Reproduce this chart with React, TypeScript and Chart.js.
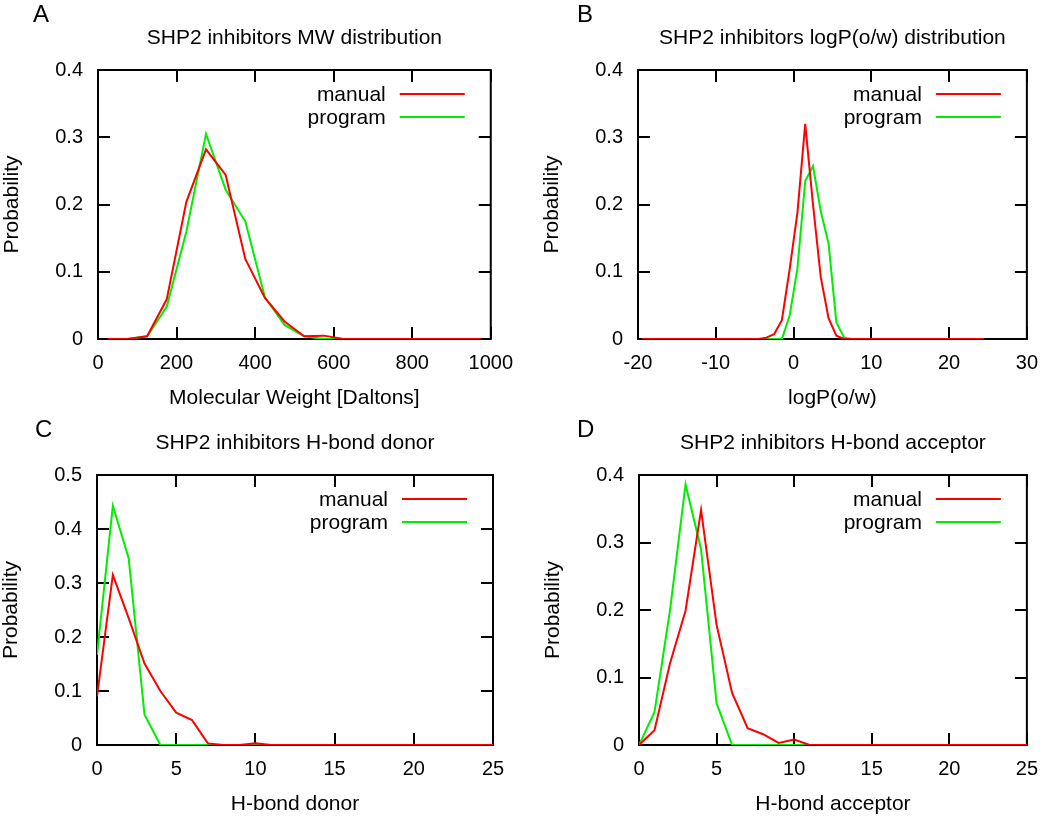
import React, { useEffect, useRef } from 'react';
import { Chart, registerables } from 'chart.js';

Chart.register(...registerables);

const FONT = '"Liberation Sans", Arial, Helvetica, sans-serif';
const RED = '#ff0000';
const GREEN = '#00ee00';

// ---- Panel A: molecular weight ----
const mwBins = [25, 75, 125, 175, 225, 275, 325, 375, 425, 475, 525, 575, 625, 675, 725, 775, 825, 875, 925, 975];
const mwManual = [0, 0, 0.004, 0.059, 0.204, 0.282, 0.244, 0.119, 0.061, 0.026, 0.004, 0.005, 0, 0, 0, 0, 0, 0, 0, 0];
const mwProgram = [0, 0, 0.004, 0.048, 0.16, 0.305, 0.222, 0.175, 0.062, 0.021, 0.004, 0, 0, 0, 0, 0, 0, 0, 0, 0];

// ---- Panel B: logP(o/w) ----
const logpBins = [
  -19.5, -18.5, -17.5, -16.5, -15.5, -14.5, -13.5, -12.5, -11.5, -10.5,
  -9.5, -8.5, -7.5, -6.5, -5.5, -4.5, -3.5, -2.5, -1.5, -0.5,
  0.5, 1.5, 2.5, 3.5, 4.5, 5.5, 6.5, 7.5, 8.5, 9.5,
  10.5, 11.5, 12.5, 13.5, 14.5, 15.5, 16.5, 17.5, 18.5, 19.5,
  20.5, 21.5, 22.5, 23.5, 24.5,
];
const logpManual = [
  0, 0, 0, 0, 0, 0, 0, 0, 0, 0,
  0, 0, 0, 0, 0, 0, 0.002, 0.007, 0.028, 0.104,
  0.188, 0.32, 0.2, 0.092, 0.031, 0.005, 0, 0, 0, 0,
  0, 0, 0, 0, 0, 0, 0, 0, 0, 0,
  0, 0, 0, 0, 0,
];
const logpProgram = [
  0, 0, 0, 0, 0, 0, 0, 0, 0, 0,
  0, 0, 0, 0, 0, 0, 0, 0, 0, 0.035,
  0.105, 0.235, 0.257, 0.19, 0.142, 0.025, 0.002, 0, 0, 0,
  0, 0, 0, 0, 0, 0, 0, 0, 0, 0,
  0, 0, 0, 0, 0,
];

// ---- Panel C: H-bond donor ----
const donorCounts = [0, 1, 2, 3, 4, 5, 6, 7, 8, 9, 10, 11, 12, 13, 14, 15, 16, 17, 18, 19, 20, 21, 22, 23, 24, 25];
const donorManual = [0.09, 0.315, 0.235, 0.151, 0.1, 0.06, 0.046, 0.003, 0, 0, 0.003, 0, 0, 0, 0, 0, 0, 0, 0, 0, 0, 0, 0, 0, 0, 0];
const donorProgram = [0.167, 0.443, 0.346, 0.056, 0, 0, 0, 0, 0, 0, 0, 0, 0, 0, 0, 0, 0, 0, 0, 0, 0, 0, 0, 0, 0, 0];

// ---- Panel D: H-bond acceptor ----
const acceptorCounts = [0, 1, 2, 3, 4, 5, 6, 7, 8, 9, 10, 11, 12, 13, 14, 15, 16, 17, 18, 19, 20, 21, 22, 23, 24, 25];
const acceptorManual = [0, 0.022, 0.121, 0.199, 0.348, 0.178, 0.077, 0.025, 0.016, 0.003, 0.008, 0, 0, 0, 0, 0, 0, 0, 0, 0, 0, 0, 0, 0, 0, 0];
const acceptorProgram = [0, 0.049, 0.2, 0.386, 0.29, 0.062, 0, 0, 0, 0, 0, 0, 0, 0, 0, 0, 0, 0, 0, 0, 0, 0, 0, 0, 0, 0];

const seriesNames = ['manual', 'program'];

type Panel = {
  letter: string;
  title: string;
  xTitle: string;
  xs: number[];
  manual: number[];
  program: number[];
  xMin: number;
  xMax: number;
  xStep: number;
  yMax: number;
  pos: { left: number; top: number };
  area: { left: number; top: number; right: number; bottom: number };
  letterPos: { x: number; y: number };
};

const W = 525;
const H = 408;

const panels: Panel[] = [
  {
    letter: 'A', title: 'SHP2 inhibitors MW distribution', xTitle: 'Molecular Weight [Daltons]',
    xs: mwBins, manual: mwManual, program: mwProgram,
    xMin: 0, xMax: 1000, xStep: 200, yMax: 0.4,
    pos: { left: 0, top: 0 }, area: { left: 98, top: 70, right: 493, bottom: 339 }, letterPos: { x: 33, y: 22 },
  },
  {
    letter: 'B', title: 'SHP2 inhibitors logP(o/w) distribution', xTitle: 'logP(o/w)',
    xs: logpBins, manual: logpManual, program: logpProgram,
    xMin: -20, xMax: 30, xStep: 10, yMax: 0.4,
    pos: { left: 525, top: 0 }, area: { left: 113, top: 70, right: 509, bottom: 339 }, letterPos: { x: 52, y: 22 },
  },
  {
    letter: 'C', title: 'SHP2 inhibitors H-bond donor', xTitle: 'H-bond donor',
    xs: donorCounts, manual: donorManual, program: donorProgram,
    xMin: 0, xMax: 25, xStep: 5, yMax: 0.5,
    pos: { left: 0, top: 408 }, area: { left: 97, top: 67, right: 493, bottom: 337 }, letterPos: { x: 35, y: 29 },
  },
  {
    letter: 'D', title: 'SHP2 inhibitors H-bond acceptor', xTitle: 'H-bond acceptor',
    xs: acceptorCounts, manual: acceptorManual, program: acceptorProgram,
    xMin: 0, xMax: 25, xStep: 5, yMax: 0.4,
    pos: { left: 525, top: 408 }, area: { left: 114, top: 67, right: 510, bottom: 337 }, letterPos: { x: 52, y: 29 },
  },
];

const fmt = (v: number) => String(Math.round(v * 1000) / 1000);

function makeConfig(p: Panel): any {
  const decor = {
    id: 'gnuplotDecor',
    beforeDatasetsDraw(chart: any) {
      const { ctx, chartArea: ca, scales } = chart;
      ctx.save();
      ctx.strokeStyle = '#000';
      ctx.lineWidth = 2;
      ctx.strokeRect(ca.left, ca.top, ca.right - ca.left, ca.bottom - ca.top);
      const tl = 12;
      ctx.beginPath();
      for (const t of scales.x.ticks) {
        const px = Math.round(scales.x.getPixelForValue(t.value));
        ctx.moveTo(px, ca.bottom);
        ctx.lineTo(px, ca.bottom - tl);
        ctx.moveTo(px, ca.top);
        ctx.lineTo(px, ca.top + tl);
      }
      for (const t of scales.y.ticks) {
        const py = Math.round(scales.y.getPixelForValue(t.value));
        ctx.moveTo(ca.left, py);
        ctx.lineTo(ca.left + tl, py);
        ctx.moveTo(ca.right, py);
        ctx.lineTo(ca.right - tl, py);
      }
      ctx.stroke();
      ctx.restore();
    },
    afterDraw(chart: any) {
      const { ctx, chartArea: ca } = chart;
      ctx.save();
      ctx.fillStyle = '#000';
      ctx.textBaseline = 'alphabetic';
      // panel letter
      ctx.font = `24px ${FONT}`;
      ctx.textAlign = 'left';
      ctx.fillText(p.letter, p.letterPos.x, p.letterPos.y);
      // title
      ctx.font = `21px ${FONT}`;
      ctx.textAlign = 'center';
      ctx.fillText(p.title, (ca.left + ca.right) / 2, ca.top - 26);
      // x title
      ctx.fillText(p.xTitle, (ca.left + ca.right) / 2, ca.bottom + 65);
      // y title
      ctx.save();
      ctx.translate(ca.left - 80, (ca.top + ca.bottom) / 2);
      ctx.rotate(-Math.PI / 2);
      ctx.textAlign = 'center';
      ctx.fillText('Probability', 0, 0);
      ctx.restore();
      // legend
      const colors = [RED, GREEN];
      seriesNames.forEach((name, i) => {
        const y = ca.top + 24 + i * 23;
        ctx.textAlign = 'right';
        ctx.textBaseline = 'middle';
        ctx.fillStyle = '#000';
        ctx.fillText(name, ca.right - 105, y + 1);
        ctx.strokeStyle = colors[i];
        ctx.lineWidth = 2;
        ctx.beginPath();
        ctx.moveTo(ca.right - 91, y);
        ctx.lineTo(ca.right - 26, y);
        ctx.stroke();
      });
      ctx.restore();
    },
  };

  return {
    type: 'line',
    data: {
      datasets: [
        {
          label: seriesNames[0],
          data: p.xs.map((x, i) => ({ x, y: p.manual[i] })),
          borderColor: RED,
          borderWidth: 2,
          pointRadius: 0,
          tension: 0,
          fill: false,
        },
        {
          label: seriesNames[1],
          data: p.xs.map((x, i) => ({ x, y: p.program[i] })),
          borderColor: GREEN,
          borderWidth: 2,
          pointRadius: 0,
          tension: 0,
          fill: false,
        },
      ],
    },
    options: {
      responsive: false,
      animation: false,
      devicePixelRatio: 1,
      layout: { padding: { left: 0, top: p.area.top, right: W - p.area.right, bottom: 0 } },
      plugins: { legend: { display: false }, title: { display: false }, tooltip: { enabled: false } },
      scales: {
        x: {
          type: 'linear',
          min: p.xMin,
          max: p.xMax,
          grid: { display: false, drawTicks: false },
          border: { display: false },
          ticks: {
            stepSize: p.xStep,
            autoSkip: false,
            maxRotation: 0,
            padding: 12,
            color: '#000',
            font: { family: FONT, size: 20 },
            callback: (v: number) => fmt(v),
          },
          afterFit: (s: any) => { s.height = H - p.area.bottom; },
        },
        y: {
          type: 'linear',
          min: 0,
          max: p.yMax,
          grid: { display: false, drawTicks: false },
          border: { display: false },
          ticks: {
            stepSize: 0.1,
            padding: 15,
            color: '#000',
            font: { family: FONT, size: 20 },
            callback: (v: number) => fmt(v),
          },
          afterFit: (s: any) => { s.width = p.area.left; },
        },
      },
    },
    plugins: [decor],
  };
}

function PanelChart({ p }: { p: Panel }) {
  const ref = useRef<HTMLCanvasElement | null>(null);
  useEffect(() => {
    if (!ref.current) return;
    const chart = new Chart(ref.current, makeConfig(p));
    return () => chart.destroy();
  }, [p]);
  return (
    <canvas
      ref={ref}
      width={W}
      height={H}
      style={{ position: 'absolute', left: p.pos.left, top: p.pos.top, width: W, height: H }}
    />
  );
}

export default function App() {
  return (
    <div style={{ position: 'absolute', left: 0, top: 0, width: 1050, height: 816, background: '#fff' }}>
      {panels.map((p) => (
        <PanelChart key={p.letter} p={p} />
      ))}
    </div>
  );
}
